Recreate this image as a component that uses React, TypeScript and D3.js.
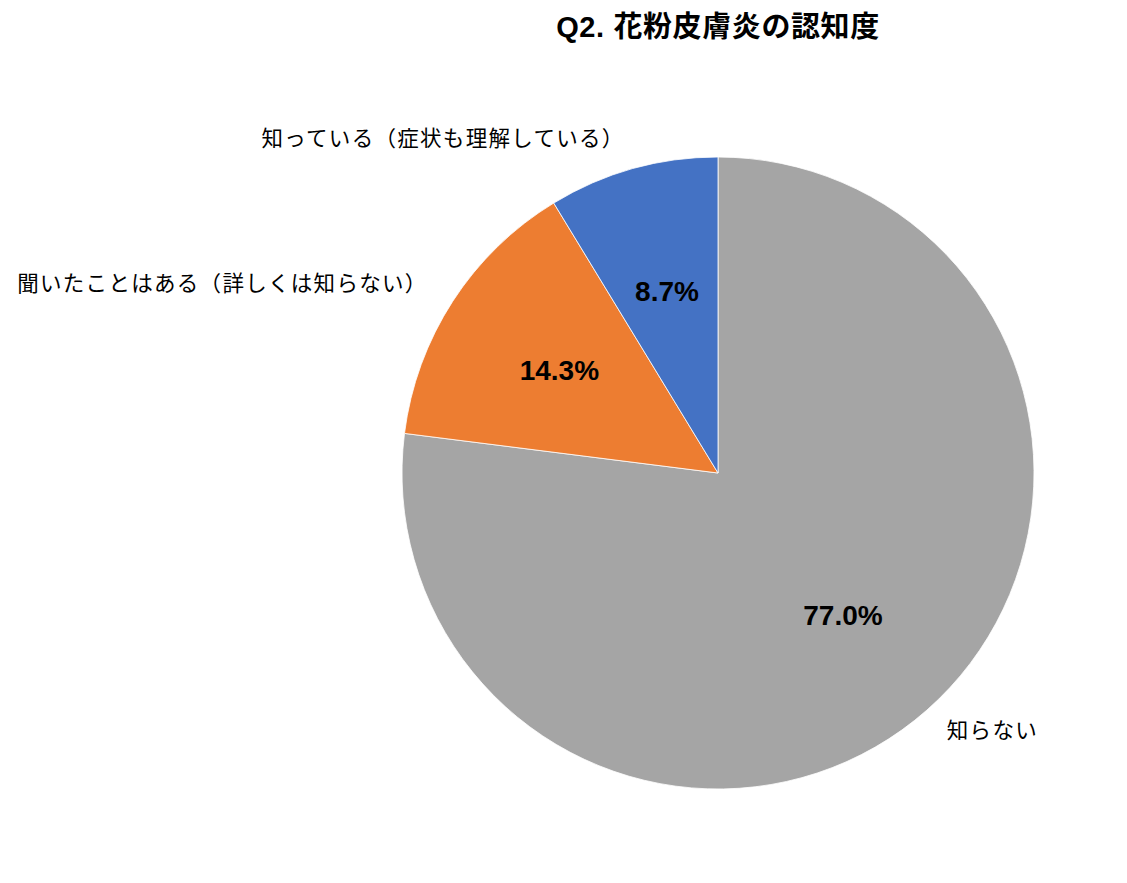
import { arc, pie, PieArcDatum } from "d3";

const categories = [
    "知らない",
    "聞いたことはある（詳しくは知らない）",
    "知っている（症状も理解している）"
];
const values = [77.0, 14.3, 8.7];
const colors = ["#A5A5A5", "#ED7D31", "#4472C4"];
const title = "Q2. 花粉皮膚炎の認知度";

interface Slice {
    label: string;
    value: number;
    color: string;
}

const data: Slice[] = categories.map((label, i) => ({
    label,
    value: values[i],
    color: colors[i]
}));

const width = 1127;
const height = 883;
const cx = 718;
const cy = 473;
const radius = 316;
const font = "'Liberation Sans', 'Noto Sans CJK JP', sans-serif";

export default function App() {
    const arcs = pie<Slice>()
        .value((d) => d.value)
        .sort(null)(data);

    const slicePath = arc<PieArcDatum<Slice>>().innerRadius(0).outerRadius(radius);
    const valueArc = arc<PieArcDatum<Slice>>().innerRadius(189).outerRadius(189);
    const labelArc = arc<PieArcDatum<Slice>>().innerRadius(346).outerRadius(346);

    return (
        <svg
            width={width}
            height={height}
            style={{ position: "absolute", left: 0, top: 0, background: "#fff" }}
        >
            <text
                x={cx}
                y={29}
                textAnchor="middle"
                dominantBaseline="middle"
                fontFamily={font}
                fontWeight="bold"
                fontSize={29}
                letterSpacing={0.6}
            >
                {title}
            </text>
            <g transform={`translate(${cx}, ${cy})`}>
                {arcs.map((a) => (
                    <path
                        key={`slice-${a.data.label}`}
                        d={slicePath(a) ?? ""}
                        fill={a.data.color}
                        stroke="#fff"
                        strokeWidth={0.8}
                    />
                ))}
                {arcs.map((a) => {
                    const [x, y] = valueArc.centroid(a);
                    return (
                        <text
                            key={`value-${a.data.label}`}
                            x={x}
                            y={y}
                            dy={2.5}
                            textAnchor="middle"
                            dominantBaseline="middle"
                            fontFamily={font}
                            fontWeight="bold"
                            fontSize={28}
                        >
                            {`${a.data.value.toFixed(1)}%`}
                        </text>
                    );
                })}
                {arcs.map((a) => {
                    const [x, y] = labelArc.centroid(a);
                    return (
                        <text
                            key={`label-${a.data.label}`}
                            x={x}
                            y={y}
                            textAnchor={x < 0 ? "end" : "start"}
                            dominantBaseline="middle"
                            fontFamily={font}
                            fontSize={21.5}
                            letterSpacing={1.3}
                        >
                            {a.data.label}
                        </text>
                    );
                })}
            </g>
        </svg>
    );
}
